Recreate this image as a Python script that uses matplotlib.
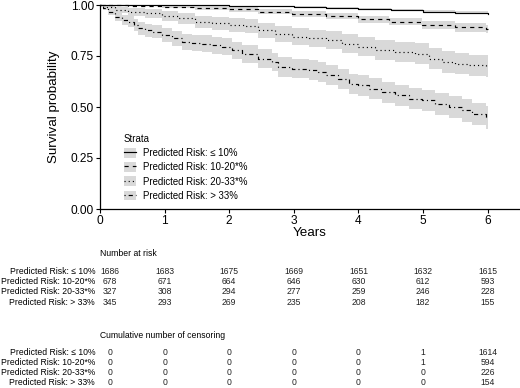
import numpy as np
import matplotlib
matplotlib.use('Agg')
import matplotlib.pyplot as plt
from matplotlib.lines import Line2D
from matplotlib.patches import Patch
import matplotlib.transforms as mtransforms

plt.rcParams['font.family'] = ['Liberation Sans', 'DejaVu Sans']
plt.rcParams['lines.scale_dashes'] = False

#%% Data
strata = ['Predicted Risk: \u2264 10%', 'Predicted Risk: 10-20*%',
          'Predicted Risk: 20-33*%', 'Predicted Risk: > 33%']

# <= 10 %
sl_t = [0, 1.0, 2.0, 3.0, 3.5, 4.0, 4.5, 5.0, 5.5, 6.0]
sl_s = [1.0, 0.998, 0.993, 0.990, 0.985, 0.979, 0.974, 0.968, 0.963, 0.958]
sl_ci = [0, 0.002, 0.003, 0.004, 0.004, 0.005, 0.005, 0.006, 0.006, 0.006]

# 10-20 %
ds_t = [0, 0.44, 0.96, 1.47, 1.99, 2.45, 2.97, 3.49, 4.00, 4.47, 4.99, 5.50, 5.97, 6.00]
ds_s = [1.0, 0.997, 0.992, 0.986, 0.979, 0.967, 0.957, 0.944, 0.929, 0.918, 0.901, 0.890, 0.882, 0.880]
ds_ci = [0, 0.004, 0.007, 0.009, 0.011, 0.012, 0.014, 0.015, 0.017, 0.018, 0.019, 0.020, 0.021, 0.021]

# 20-33 %
dt_t = [0, 0.10, 0.23, 0.44, 0.70, 0.96, 1.21, 1.47, 1.73, 1.99,
        2.25, 2.45, 2.71, 2.97, 3.23, 3.49, 3.75, 4.00, 4.26, 4.57,
        4.88, 5.09, 5.30, 5.50, 5.71, 5.97, 6.00]
dt_s = [1.0, 0.988, 0.975, 0.967, 0.959, 0.948, 0.934, 0.918, 0.910, 0.901,
        0.897, 0.877, 0.860, 0.844, 0.836, 0.828, 0.811, 0.795, 0.778, 0.770,
        0.762, 0.737, 0.721, 0.713, 0.704, 0.700, 0.697]
dt_ci = [0, 0.010, 0.015, 0.020, 0.023, 0.025, 0.028, 0.030, 0.032, 0.034,
         0.035, 0.037, 0.039, 0.041, 0.042, 0.044, 0.045, 0.047, 0.048, 0.049,
         0.050, 0.051, 0.052, 0.053, 0.053, 0.054, 0.054]

# > 33 %
dd_t = [0, 0.05, 0.13, 0.23, 0.34, 0.44, 0.52, 0.59, 0.70, 0.80,
        0.96, 1.11, 1.27, 1.42, 1.58, 1.73, 1.89, 2.04, 2.20, 2.45,
        2.66, 2.76, 2.97, 3.23, 3.38, 3.49, 3.69, 3.85, 4.00, 4.16,
        4.37, 4.57, 4.78, 4.99, 5.19, 5.40, 5.61, 5.76, 5.97, 6.00]
dd_s = [1.0, 0.985, 0.967, 0.942, 0.926, 0.918, 0.901, 0.885, 0.877, 0.869,
        0.852, 0.836, 0.819, 0.814, 0.811, 0.803, 0.795, 0.778, 0.762, 0.737,
        0.721, 0.696, 0.688, 0.680, 0.671, 0.655, 0.639, 0.614, 0.606, 0.590,
        0.573, 0.557, 0.540, 0.532, 0.516, 0.499, 0.483, 0.466, 0.450, 0.448]
dd_ci = [0, 0.010, 0.015, 0.020, 0.024, 0.027, 0.029, 0.031, 0.032, 0.033,
         0.034, 0.036, 0.038, 0.039, 0.040, 0.041, 0.042, 0.043, 0.044, 0.045,
         0.046, 0.047, 0.047, 0.048, 0.048, 0.049, 0.049, 0.050, 0.050, 0.051,
         0.051, 0.052, 0.052, 0.053, 0.054, 0.055, 0.055, 0.056, 0.057, 0.057]

times = [0, 1, 2, 3, 4, 5, 6]
at_risk = [[1686, 1683, 1675, 1669, 1651, 1632, 1615],
           [678, 671, 664, 646, 630, 612, 593],
           [327, 308, 294, 277, 259, 246, 228],
           [345, 293, 269, 235, 208, 182, 155]]
censored = [[0, 0, 0, 0, 0, 1, 1614],
            [0, 0, 0, 0, 0, 1, 594],
            [0, 0, 0, 0, 0, 0, 226],
            [0, 0, 0, 0, 0, 0, 154]]

#%% Plot
W, H = 520, 388
fig = plt.figure(figsize=(W / 100, H / 100), dpi=100)
ax = fig.add_axes([100 / W, (H - 209) / H, 420 / W, 204 / H])

curves = [(sl_t, sl_s, sl_ci, '-'),
          (ds_t, ds_s, ds_ci, (0, (3.0, 3.0))),
          (dt_t, dt_s, dt_ci, (0, (0.8, 2.2))),
          (dd_t, dd_s, dd_ci, (0, (0.8, 2.2, 3.0, 2.2)))]

for t, s, ci, ls in curves:
    t = np.array(t); s = np.array(s); ci = np.array(ci)
    ax.fill_between(t, s - ci, np.minimum(s + ci, 1.0), step='post',
                    color='#d9d9d9', lw=0)
for t, s, ci, ls in curves:
    ax.plot(t, s, drawstyle='steps-post', color='black', lw=0.85,
            linestyle=ls, clip_on=False)

ax.set_xlim(0, 6.5)
ax.set_ylim(0, 1)
ax.set_xticks(times)
ax.set_yticks([0, 0.25, 0.5, 0.75, 1.0])
ax.set_yticklabels(['0.00', '0.25', '0.50', '0.75', '1.00'])
ax.tick_params(labelsize=8.6, length=3, width=0.8, pad=1.5, colors='black')
for side in ['top', 'right']:
    ax.spines[side].set_visible(False)
for side in ['left', 'bottom']:
    ax.spines[side].set_linewidth(0.9)
ax.set_xlabel('Years', fontsize=9.6, labelpad=0)
ax.set_ylabel('Survival probability', fontsize=9.6, labelpad=8)

handles = [(Patch(facecolor='#d9d9d9', edgecolor='none'),
            Line2D([], [], color='black', lw=0.85, linestyle=c[3])) for c in curves]
leg = ax.legend(handles, strata, title='Strata', loc='upper left',
                bbox_to_anchor=(0.04, 0.40), frameon=False, fontsize=6.9,
                title_fontsize=6.9, handlelength=1.3, handleheight=1.2,
                handletextpad=0.7, labelspacing=0.42, borderpad=0.2)
leg._legend_box.align = 'left'

#%% Tables
tr = mtransforms.blended_transform_factory(ax.transData, fig.transFigure)
fs = 6.2

def table(title, title_y, rows_y, values):
    fig.text(0, 1 - title_y / H, title, transform=tr, fontsize=fs,
             ha='left', va='center')
    for lab, y, row in zip(strata, rows_y, values):
        fig.text(95 / W, 1 - y / H, lab, fontsize=fs, ha='right', va='center')
        for x, v in zip(times, row):
            dx = 10 / 64.5 if x == 0 else 0
            fig.text(x + dx, 1 - y / H, str(v), transform=tr, fontsize=fs,
                     ha='center', va='center', color='#222222')

table('Number at risk', 253, [271, 281.5, 292, 302.5], at_risk)
table('Cumulative number of censoring', 335, [352.5, 362.5, 372.5, 382.5], censored)

fig.savefig('out.png', dpi=100)
